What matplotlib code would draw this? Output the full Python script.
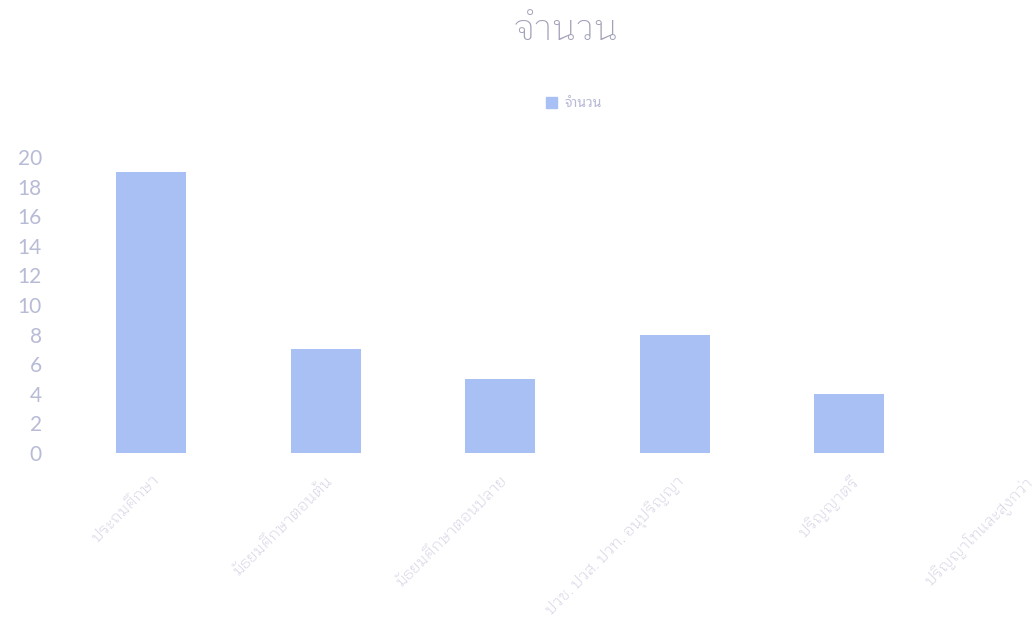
import matplotlib
matplotlib.use("Agg")
import matplotlib.pyplot as plt
import numpy as np

# ระดับการศึกษา กับ จำนวน
levels = [
    "ประถมศึกษา",
    "มัธยมศึกษาตอนต้น",
    "มัธยมศึกษาตอนปลาย",
    "ปวช. ปวส. ปวท. อนุปริญญา",
    "ปริญญาตรี",
    "ปริญญาโทและสูงกว่า",
]
counts = [19, 7, 5, 8, 4, 0]
y_ticks = list(range(0, 21, 2))

thai_font = ["Noto Sans Thai Looped", "DejaVu Sans"]
light_font = ["IBM Plex Sans Thai Looped", "Noto Sans Thai Looped", "DejaVu Sans"]
num_font = ["Lato", "DejaVu Sans"]
bar_color = "#a9c0f4"
text_color = "#b8bbd6"

fig = plt.figure(figsize=(10.32, 6.22), dpi=100)
ax = fig.add_axes([0.062, 0.2717, 1.0145, 0.4759])

x = np.arange(len(levels))
ax.bar(x, counts, width=0.4, color=bar_color)

ax.set_xlim(-0.5, len(levels) - 0.5)
ax.set_ylim(0, 20)
ax.set_yticks(y_ticks)
ax.set_yticklabels([str(v) for v in y_ticks], family=num_font, fontsize=15,
                   color=text_color)
ax.set_xticks(x)
ax.set_xticklabels(levels, family=light_font, fontsize=11.5, color="#c2c4da",
                   fontweight="light", rotation=45, ha="right", va="top",
                   rotation_mode="anchor")
ax.tick_params(axis="y", length=0, pad=16)
ax.tick_params(axis="x", length=0, pad=14)
for s in ax.spines.values():
    s.set_visible(False)

fig.text(0.549, 0.952, "จำนวน", family=light_font, fontsize=26, color="#a0a0b8",
         fontweight="light", ha="center", va="center")

# legend แบบ Excel อยู่ใต้หัวเรื่อง
handle = plt.Rectangle((0, 0), 1, 1, color=bar_color)
fig.legend([handle], ["จำนวน"], loc="center", bbox_to_anchor=(0.556, 0.833),
           frameon=False, prop={"family": thai_font, "size": 10},
           labelcolor=text_color, handlelength=0.8, handleheight=0.8, handletextpad=0.5)

fig.savefig("out.png", dpi=100)
